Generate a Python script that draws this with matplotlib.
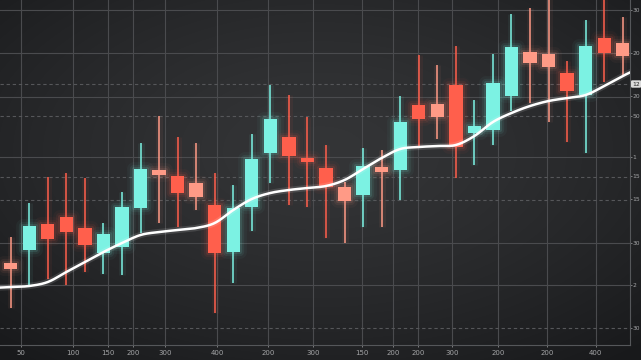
import numpy as np
import matplotlib
matplotlib.use("Agg")
import matplotlib.pyplot as plt
from matplotlib.patches import Rectangle

# ---------------- data ----------------
opens  = [82, 95, 121, 128, 117, 92, 98, 137, 175, 169, 162, 140, 93, 138, 192, 208, 187,
          177, 158, 150, 178, 175, 240, 241, 260, 212, 215, 249, 293, 291, 272, 250, 307, 302]
highs  = [108, 142, 168, 172, 167, 122, 153, 202, 229, 208, 202, 172, 160, 211, 260, 250, 228,
          200, 163, 197, 195, 249, 290, 280, 299, 245, 291, 331, 337, 350, 284, 325, 350, 328]
lows   = [37, 60, 66, 60, 73, 71, 70, 112, 122, 118, 135, 32, 62, 114, 162, 140, 138,
          107, 102, 118, 118, 145, 198, 206, 167, 180, 200, 234, 242, 223, 203, 192, 263, 270]
closes = [76, 119, 106, 113, 100, 111, 138, 176, 170, 152, 148, 92, 137, 186, 226, 189, 183,
          158, 144, 179, 173, 223, 226, 228, 198, 219, 262, 298, 282, 278, 254, 299, 292, 289]
light_bear = [0, 8, 10, 18, 20, 23, 28, 29, 33]

# moving average, candle index -1 .. 34
ma_values = [57, 58, 59, 63, 73, 83, 93, 102, 110, 113, 115, 117, 122, 135, 146, 152, 155,
             157, 159, 165, 176, 187, 196, 198, 199, 200, 209, 223, 232, 239, 244, 247, 250,
             259, 269, 278]

x_tick_pos = [0.56, 3.36, 5.25, 6.59, 8.32, 11.12, 13.87, 16.3, 18.94, 20.61, 21.96,
              23.79, 26.27, 28.91, 31.55]
x_tick_labels = ["50", "100", "150", "200", "300", "400", "200", "300", "150", "200",
                 "200", "300", "200", "200", "400"]

y_tick_pos = [335, 292, 249, 229, 188, 169, 146, 102, 60, 17]
y_tick_labels = ["30", "20", "20", "50", "1", "15", "15", "30", "2", "30"]
h_grid_solid = [335, 292, 248, 188, 102, 60]
h_grid_dashed = [261, 229, 168, 145, 17]
last_price = 261
last_price_label = "12"

# ---------------- styling ----------------
CYAN = "#7cf2e3"
RED = "#ff5f4c"
SALMON = "#ff9a86"

fig = plt.figure(figsize=(6.41, 3.6), dpi=100)

# background radial gradient
bg = fig.add_axes([0, 0, 1, 1])
yy, xx = np.mgrid[0:1:360j, 0:1:641j]
r = np.sqrt(((xx - 0.5) / 0.75) ** 2 + ((yy - 0.42) / 0.75) ** 2)
r = np.clip(r, 0, 1)
c_in = np.array([0x34, 0x35, 0x37]) / 255
c_out = np.array([0x18, 0x19, 0x1b]) / 255
img = c_in[None, None, :] * (1 - r[..., None] ** 1.4) + c_out[None, None, :] * (r[..., None] ** 1.4)
bg.imshow(img, extent=[0, 1, 0, 1], aspect="auto", origin="upper")
bg.axis("off")

ax = fig.add_axes([0, 15 / 360, 630 / 641, 345 / 360])
ax.set_facecolor("none")
ax.set_xlim(-0.577, 33.39)
ax.set_ylim(0, 345)

# grid
for xv in x_tick_pos:
    ax.axvline(xv, color="#4a4b4e", lw=0.8, zorder=0)
for yv in h_grid_solid:
    ax.axhline(yv, color="#4a4b4e", lw=0.8, zorder=0)
for yv in h_grid_dashed:
    ax.axhline(yv, color="#56575a", lw=0.8, ls=(0, (3, 2.5)), zorder=0)

# candles
w = 0.72
for i, (o, h, l, c) in enumerate(zip(opens, highs, lows, closes)):
    if c >= o:
        col = CYAN
    elif i in light_bear:
        col = SALMON
    else:
        col = RED
    ax.vlines(i, l, h, color=col, lw=5, alpha=0.06, zorder=1)
    ax.vlines(i, l, h, color=col, lw=1.3, alpha=0.85, zorder=2)
    lo, hi = min(o, c), max(o, c)
    hgt = max(hi - lo, 1.5)
    for lw, a in [(10, 0.04), (6, 0.07), (3, 0.12)]:
        ax.add_patch(Rectangle((i - w / 2, lo), w, hgt, fc="none", ec=col, lw=lw,
                               alpha=a, zorder=2, joinstyle="round"))
    ax.add_patch(Rectangle((i - w / 2, lo), w, hgt, fc=col, ec="none", zorder=3))


# moving average (Catmull-Rom smoothing)
def catmull(xs, ys, n=12):
    pts = np.column_stack([xs, ys]).astype(float)
    P = np.vstack([pts[0], pts, pts[-1]])
    out = []
    t = np.linspace(0, 1, n, endpoint=False)[:, None]
    for k in range(1, len(P) - 2):
        p0, p1, p2, p3 = P[k - 1], P[k], P[k + 1], P[k + 2]
        out.append(0.5 * ((2 * p1) + (-p0 + p2) * t + (2 * p0 - 5 * p1 + 4 * p2 - p3) * t ** 2
                          + (-p0 + 3 * p1 - 3 * p2 + p3) * t ** 3))
    out.append(P[-2][None])
    return np.vstack(out)


ma_x = np.arange(-1, len(ma_values) - 1)
sm = catmull(ma_x, ma_values)
ax.plot(sm[:, 0], sm[:, 1], color="white", lw=4.5, alpha=0.12, zorder=4, solid_capstyle="round")
ax.plot(sm[:, 0], sm[:, 1], color="white", lw=1.8, zorder=5, solid_capstyle="round")

# axes / ticks
for s in ["top", "left"]:
    ax.spines[s].set_visible(False)
for s in ["right", "bottom"]:
    ax.spines[s].set_color("#55575a")
    ax.spines[s].set_linewidth(0.8)

ax.set_xticks(x_tick_pos)
ax.set_xticklabels(x_tick_labels)
ax.yaxis.tick_right()
ax.set_yticks(y_tick_pos)
ax.set_yticklabels(y_tick_labels)
ax.tick_params(axis="x", colors="#8d8e90", labelsize=5, length=1.5, width=0.6, pad=2,
               labelcolor="#a4a5a7")
ax.tick_params(axis="y", colors="#8d8e90", labelsize=4.3, length=1.2, width=0.6, pad=0.8,
               labelcolor="#a4a5a7")

ax.text(1.0035, last_price, last_price_label, transform=ax.get_yaxis_transform(),
        fontsize=4.3, color="#222222", va="center", ha="left", clip_on=False,
        bbox=dict(boxstyle="round,pad=0.2", fc="#dcdcdc", ec="none"))

fig.savefig("out.png", dpi=100)
